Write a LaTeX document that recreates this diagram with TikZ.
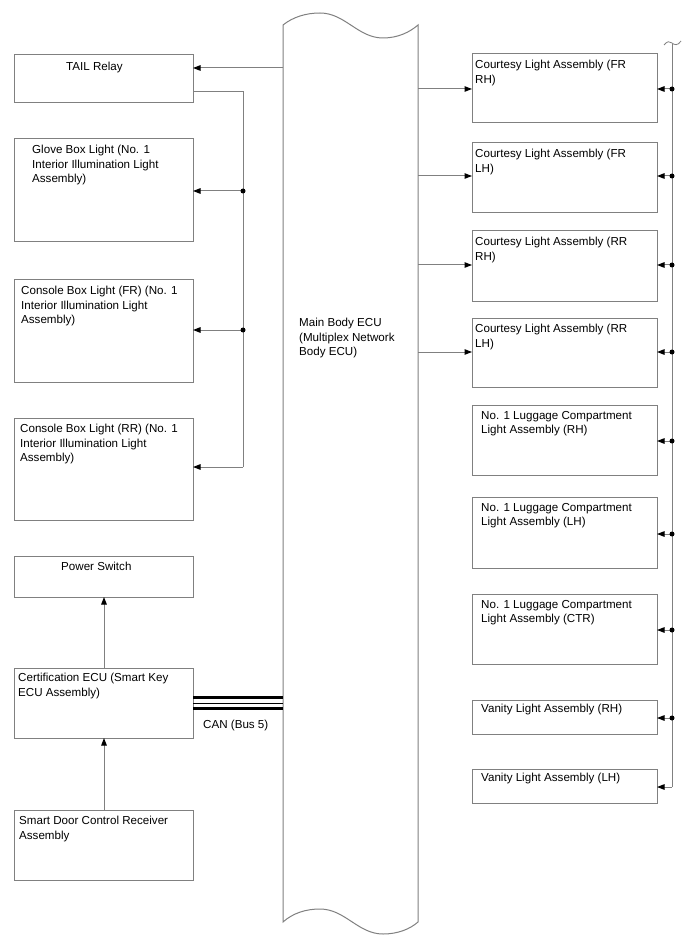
\documentclass[tikz,border=0pt]{standalone}
\usepackage{fontspec}
\setmainfont{Liberation Sans}
\usetikzlibrary{arrows.meta,calc}
\definecolor{linegray}{RGB}{128,128,128}
\tikzset{
  box/.style={draw=linegray, line width=1pt, fill=white, anchor=north west, inner sep=0pt, outer sep=0pt},
  txt/.style={anchor=north west, inner sep=0pt, align=left, font=\fontsize{11.6}{14.5}\selectfont},
  conn/.style={draw=linegray, line width=1pt, -{Triangle[length=7.5pt,width=5.5pt,black]}},
  wire/.style={draw=linegray, line width=1pt},
  dot/.style={fill=black},
}
\begin{document}
\begin{tikzpicture}[x=1pt,y=-1pt]
\useasboundingbox (0,0) rectangle (688,949);
\fill[white] (0,0) rectangle (688,949);

% Main Body ECU
\draw[wire] (283,25) .. controls (293,17) and (306,13) .. (320,13)
  .. controls (345,13) and (358,38) .. (383,38)
  .. controls (398,38) and (410,32) .. (418,25)
  -- (418,922)
  .. controls (410,929) and (398,934) .. (383,934)
  .. controls (358,934) and (345,909) .. (320,909)
  .. controls (306,909) and (293,913) .. (283,922) -- cycle;
\node[txt] (ecuT) at (299,318) {Main Body ECU\\(Multiplex Network\\Body ECU)};

% Left boxes
\node[box, minimum width=179pt, minimum height=48pt] (tail) at (14,55) {};
\node[txt] (tailT) at (66,62) {TAIL Relay};
\node[box, minimum width=179pt, minimum height=103pt] (glove) at (14,139) {};
\node[txt] (gloveT) at (32,145) {Glove Box Light (No. 1\\Interior Illumination Light\\Assembly)};
\node[box, minimum width=179pt, minimum height=102pt] (cfr) at (14,280) {};
\node[txt] (cfrT) at (21,286) {Console Box Light (FR) (No. 1\\Interior Illumination Light\\Assembly)};
\node[box, minimum width=179pt, minimum height=102pt] (crr) at (14,418) {};
\node[txt] (crrT) at (20,424) {Console Box Light (RR) (No. 1\\Interior Illumination Light\\Assembly)};
\node[box, minimum width=179pt, minimum height=41pt] (pwr) at (14,556) {};
\node[txt] (pwrT) at (61,562) {Power Switch};
\node[box, minimum width=179pt, minimum height=70pt] (cert) at (14,668) {};
\node[txt] (certT) at (18,673) {Certification ECU (Smart Key\\ECU Assembly)};
\node[box, minimum width=179pt, minimum height=70pt] (sdc) at (14,810) {};
\node[txt] (sdcT) at (19,816) {Smart Door Control Receiver\\Assembly};

% Right boxes
\node[box, minimum width=185pt, minimum height=69pt] (r1) at (472,54) {};
\node[txt] (r1T) at (475,60) {Courtesy Light Assembly (FR\\RH)};
\node[box, minimum width=185pt, minimum height=70pt] (r2) at (472,143) {};
\node[txt] (r2T) at (475,149) {Courtesy Light Assembly (FR\\LH)};
\node[box, minimum width=185pt, minimum height=70pt] (r3) at (472,231) {};
\node[txt] (r3T) at (475,237) {Courtesy Light Assembly (RR\\RH)};
\node[box, minimum width=185pt, minimum height=69pt] (r4) at (472,318) {};
\node[txt] (r4T) at (475,324) {Courtesy Light Assembly (RR\\LH)};
\node[box, minimum width=185pt, minimum height=70pt] (r5) at (472,405) {};
\node[txt] (r5T) at (481,411) {No. 1 Luggage Compartment\\Light Assembly (RH)};
\node[box, minimum width=185pt, minimum height=71pt] (r6) at (472,497) {};
\node[txt] (r6T) at (481,503) {No. 1 Luggage Compartment\\Light Assembly (LH)};
\node[box, minimum width=185pt, minimum height=70pt] (r7) at (472,594) {};
\node[txt] (r7T) at (481,600) {No. 1 Luggage Compartment\\Light Assembly (CTR)};
\node[box, minimum width=185pt, minimum height=34pt] (r8) at (472,700) {};
\node[txt] (r8T) at (481,704) {Vanity Light Assembly (RH)};
\node[box, minimum width=185pt, minimum height=34pt] (r9) at (472,769) {};
\node[txt] (r9T) at (481,773) {Vanity Light Assembly (LH)};

% ECU -> TAIL relay
\coordinate (a0) at (283,68);
\draw[conn] (a0) -- (a0 -| tail.east);
% TAIL relay bus
\coordinate (lb0) at (243,92);
\coordinate (lb1) at (243,191);
\coordinate (lb2) at (243,330);
\coordinate (lb3) at (243,467);
\draw[wire] (lb0 -| tail.east) -- (lb0) -- (lb3);
\draw[conn] (lb1) -- (lb1 -| glove.east);
\draw[conn] (lb2) -- (lb2 -| cfr.east);
\draw[conn] (lb3) -- (lb3 -| crr.east);
\fill[dot] (lb1) circle (2.5);
\fill[dot] (lb2) circle (2.5);

% Power switch / smart door
\coordinate (vx) at (104,0);
\draw[conn] (cert.north -| vx) -- (pwr.south -| vx);
\draw[conn] (sdc.north -| vx) -- (cert.south -| vx);

% CAN
\coordinate (can1) at (283,697.5);
\coordinate (can2) at (283,703);
\coordinate (can3) at (283,708.5);
\draw[black, line width=2.6pt] (can1 -| cert.east) -- (can1);
\draw[black, line width=1pt] (can2 -| cert.east) -- (can2);
\draw[black, line width=2.6pt] (can3 -| cert.east) -- (can3);
\node[txt] (canT) at (203,720) {CAN (Bus 5)};

% ECU -> courtesy lights
\foreach \n/\y in {r1/89, r2/176, r3/265, r4/352} {
  \coordinate (e\n) at (418,\y);
  \draw[conn] (e\n) -- (e\n -| \n.west);
}

% Right bus
\coordinate (rbTop) at (672,44);
\coordinate (rbBot) at (672,787);
\draw[wire] (rbTop) -- (rbBot);
\draw[conn] (rbBot) -- (rbBot -| r9.east);
\draw[linegray, line width=0.8pt] (664,45) .. controls (667,41) and (670,41) .. (672,43) .. controls (674,45) and (678,46) .. (681,41);
\foreach \n/\y in {r1/89, r2/176, r3/265, r4/352, r5/441, r6/534, r7/630, r8/718} {
  \coordinate (b\n) at (672,\y);
  \draw[conn] (b\n) -- (b\n -| \n.east);
  \fill[dot] (b\n) circle (2.5);
}
\end{tikzpicture}
\end{document}
